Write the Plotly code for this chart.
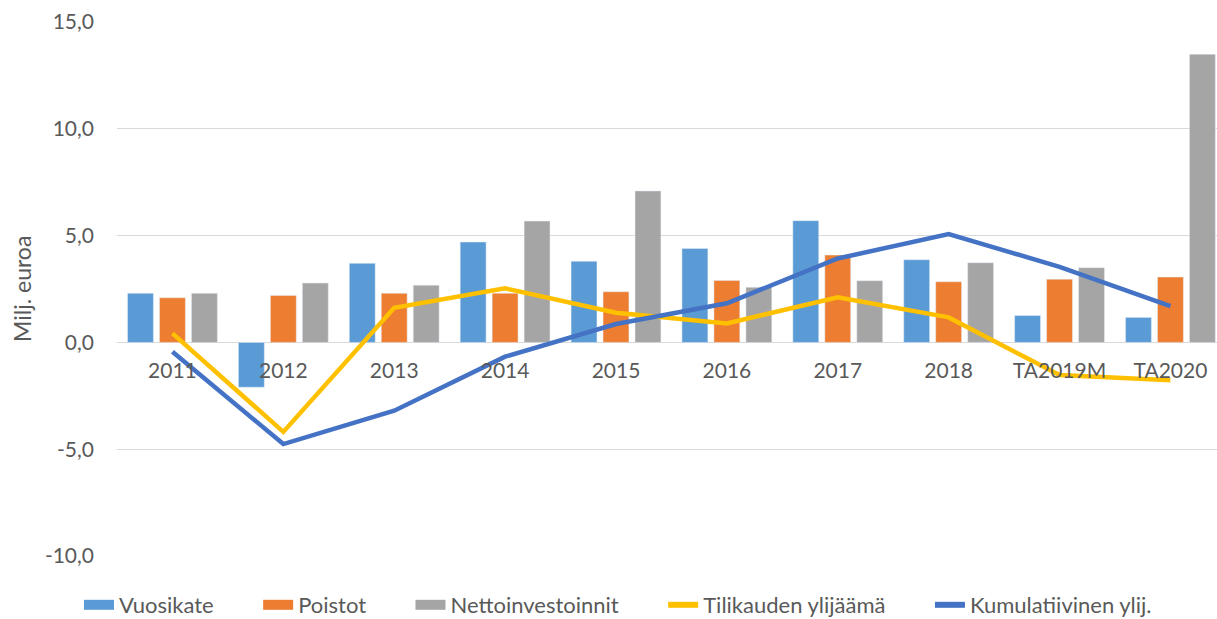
import plotly.graph_objects as go

categories = ["2011", "2012", "2013", "2014", "2015", "2016", "2017", "2018", "TA2019M", "TA2020"]
vuosikate = [2.3, -2.1, 3.7, 4.7, 3.8, 4.4, 5.7, 3.87, 1.26, 1.17]
poistot = [2.09, 2.2, 2.3, 2.3, 2.37, 2.9, 4.09, 2.84, 2.96, 3.06]
nettoinvestoinnit = [2.3, 2.78, 2.68, 5.68, 7.09, 2.58, 2.89, 3.73, 3.5, 13.49]
tilikauden = [0.42, -4.19, 1.62, 2.53, 1.39, 0.89, 2.11, 1.17, -1.53, -1.77]
kumulatiivinen = [-0.44, -4.76, -3.2, -0.67, 0.86, 1.83, 3.93, 5.07, 3.54, 1.7]
y_ticks = [-10, -5, 0, 5, 10, 15]
y_ticktext = ["-10,0", "-5,0", "0,0", "5,0", "10,0", "15,0"]

FONT = "Lato"
TXT = "#595959"
PAD = "\u00a0" * 7
bar_series = [("Vuosikate", vuosikate, "#5B9BD5"),
              ("Poistot", poistot, "#ED7D31"),
              ("Nettoinvestoinnit", nettoinvestoinnit, "#A5A5A5")]
line_series = [("Tilikauden ylijäämä", tilikauden, "#FFC000"),
               ("Kumulatiivinen ylij.", kumulatiivinen, "#4472C4")]

fig = go.Figure()
for name, vals, col in bar_series:
    fig.add_trace(go.Bar(x=categories, y=vals, name=name, marker_color=col,
                         showlegend=False, legendgroup=name))
for name, vals, col in line_series:
    fig.add_trace(go.Scatter(x=categories, y=vals, name=name, mode="lines",
                             line=dict(color=col, width=4.5), showlegend=False, legendgroup=name))

# legend entries (wide swatches like the original)
n_entries = len(bar_series) + len(line_series)
for i, (name, vals, col) in enumerate(bar_series):
    fig.add_trace(go.Scatter(x=[None], y=[None], name=name + PAD, mode="lines",
                             line=dict(color=col, width=13), legendgroup=name))
for i, (name, vals, col) in enumerate(line_series):
    label = name + (PAD if i < len(line_series) - 1 else "")
    fig.add_trace(go.Scatter(x=[None], y=[None], name=label, mode="lines",
                             line=dict(color=col, width=6), legendgroup=name))

fig.add_annotation(text="Milj. euroa", xref="paper", yref="paper", x=-0.0864, y=0.5,
                   textangle=-90, showarrow=False, font=dict(size=23, color=TXT, family=FONT),
                   xanchor="center", yanchor="middle")

fig.update_layout(
    width=1217, height=619,
    margin=dict(l=117, r=0, t=22, b=63),
    plot_bgcolor="white", paper_bgcolor="white",
    barmode="group", bargap=0.135, bargroupgap=0.19,
    font=dict(family=FONT, size=21, color=TXT),
    showlegend=True,
    legend=dict(orientation="h", x=(64 + 1172) / 2 / 1217, xref="container", xanchor="center",
                yref="container", y=(619 - 605) / 619, yanchor="middle",
                font=dict(size=22, color=TXT), traceorder="normal", itemwidth=30),
    xaxis=dict(type="category", range=[-0.5, 9.42], anchor="free", position=0.4,
               showgrid=False, showline=False, ticks="", ticklabelstandoff=14,
               tickfont=dict(size=21, color=TXT), zeroline=False, automargin=False),
    yaxis=dict(range=[-10, 15], tickvals=y_ticks, ticktext=y_ticktext,
               showgrid=True, gridcolor="#D9D9D9", gridwidth=1.3,
               zeroline=True, zerolinecolor="#D9D9D9", zerolinewidth=1.3,
               showline=False, ticks="", ticklabelstandoff=22,
               tickfont=dict(size=21, color=TXT), automargin=False),
)

fig.write_html("out.html", config={"displayModeBar": False},
               post_script="document.body.style.margin='0px';document.body.style.overflow='hidden';")
